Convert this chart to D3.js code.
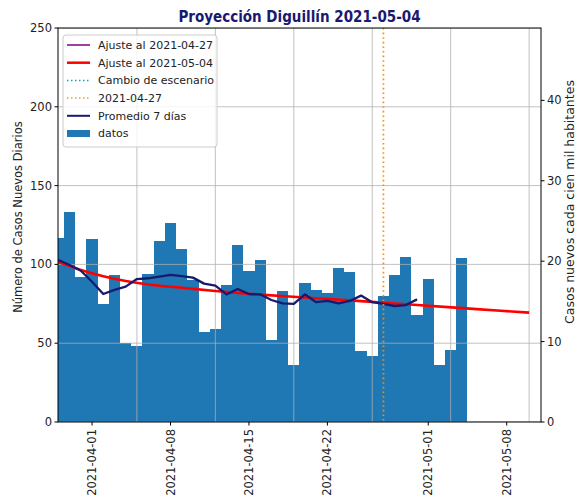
<!DOCTYPE html>
<html><head><meta charset="utf-8">
<script src="https://cdn.jsdelivr.net/npm/d3@7"></script>
<style>body{margin:0;background:#fff} text{font-family:"DejaVu Sans",sans-serif}</style>
</head><body><svg id="c" width="577" height="501"></svg>
<script>
const barDates = ["2021-03-29","2021-03-30","2021-03-31","2021-04-01","2021-04-02","2021-04-03","2021-04-04","2021-04-05","2021-04-06","2021-04-07",
"2021-04-08","2021-04-09","2021-04-10","2021-04-11","2021-04-12","2021-04-13","2021-04-14","2021-04-15","2021-04-16","2021-04-17",
"2021-04-18","2021-04-19","2021-04-20","2021-04-21","2021-04-22","2021-04-23","2021-04-24","2021-04-25","2021-04-26","2021-04-27",
"2021-04-28","2021-04-29","2021-04-30","2021-05-01","2021-05-02","2021-05-03","2021-05-04"];
const casos = [117,133,92,116,75,93,50,48,94,115,
126,110,90,57,59,87,112,96,103,52,
83,36,88,84,82,98,95,45,42,80,
93,105,68,91,36,46,104];
const avgDates = ["2021-03-29","2021-03-30","2021-03-31","2021-04-01","2021-04-02","2021-04-03","2021-04-04","2021-04-05","2021-04-06","2021-04-07",
"2021-04-08","2021-04-09","2021-04-10","2021-04-11","2021-04-12","2021-04-13","2021-04-14","2021-04-15","2021-04-16","2021-04-17",
"2021-04-18","2021-04-19","2021-04-20","2021-04-21","2021-04-22","2021-04-23","2021-04-24","2021-04-25","2021-04-26","2021-04-27",
"2021-04-28","2021-04-29","2021-04-30"];
const promedio7 = [102.8,99.6,96,89,81.2,83.8,85.9,90.7,91.2,92.2,
93.3,92.6,91.6,87.8,86.5,81,84.4,81.2,81,77.4,
75.3,74.9,81,76,76.8,75.3,76.8,80.2,76,74.9,
73.6,74.2,77.8];
const fitDates = ["2021-03-29","2021-03-31","2021-04-02","2021-04-04","2021-04-06","2021-04-09","2021-04-12","2021-04-16","2021-04-20","2021-04-25","2021-04-30","2021-05-05","2021-05-10"];
const ajuste0504 = [101.5,96.5,92.5,89.5,87.3,85.2,83.1,80.8,79.0,76.7,74.2,71.8,69.4];
const xTickLabels = ["2021-04-01","2021-04-08","2021-04-15","2021-04-22","2021-05-01","2021-05-08"];
const gridDates = ["2021-04-05","2021-04-12","2021-04-19","2021-04-26","2021-05-03","2021-05-10"];
const yTicks = [0,50,100,150,200,250];
const y2Ticks = [0,10,20,30,40];
const markerDate = "2021-04-27";
const legendItems = [
  {label:"Ajuste al 2021-04-27", type:"line", color:"#800080"},
  {label:"Ajuste al 2021-05-04", type:"line", color:"#ff0000", w:2.5},
  {label:"Cambio de escenario", type:"dot", color:"#17a2b8"},
  {label:"2021-04-27", type:"dot", color:"#ff9a1a"},
  {label:"Promedio 7 días", type:"line", color:"#191970", w:2},
  {label:"datos", type:"patch", color:"#1f77b4"}
];

const parse = d3.utcParse("%Y-%m-%d");
const DAY = 864e5;
const L = 58, R = 541, T = 28, B = 422;
const svg = d3.select("#c");
const x = d3.scaleUtc()
  .domain([new Date(+parse("2021-03-29") - 0.04*DAY), new Date(+parse("2021-05-11") + 0.06*DAY)])
  .range([L, R]);
const y = d3.scaleLinear().domain([0,250]).range([B,T]);
const y2 = d3.scaleLinear().domain([0,49]).range([B,T]);

svg.append("defs").append("clipPath").attr("id","clip")
  .append("rect").attr("x",L).attr("y",T).attr("width",R-L).attr("height",B-T);

const plot = svg.append("g").attr("clip-path","url(#clip)");
const edge = d => Math.round(x(new Date(+d - DAY/2)));
plot.selectAll("rect.bar").data(barDates.map((d,i)=>({d:parse(d),v:casos[i]})))
  .join("rect").attr("class","bar")
  .attr("x",d=>edge(d.d)).attr("width",d=>edge(new Date(+d.d + DAY)) - edge(d.d))
  .attr("y",d=>y(d.v)).attr("height",d=>B-y(d.v))
  .attr("fill","#1f77b4").attr("shape-rendering","crispEdges");

// grid
plot.selectAll("line.hg").data(yTicks).join("line")
  .attr("x1",L).attr("x2",R).attr("y1",d=>y(d)).attr("y2",d=>y(d))
  .attr("stroke","#b0b0b0").attr("stroke-width",0.9).attr("opacity",0.85);
plot.selectAll("line.vg").data(gridDates).join("line")
  .attr("x1",d=>x(parse(d))).attr("x2",d=>x(parse(d))).attr("y1",T).attr("y2",B)
  .attr("stroke","#b0b0b0").attr("stroke-width",0.9).attr("opacity",0.85);

// fit line
plot.append("path").datum(fitDates.map((d,i)=>[parse(d),ajuste0504[i]]))
  .attr("d", d3.line().x(d=>x(d[0])).y(d=>y(d[1])).curve(d3.curveMonotoneX))
  .attr("fill","none").attr("stroke","#ff0000").attr("stroke-width",2.6);
// 7-day average
plot.append("path").datum(avgDates.map((d,i)=>[parse(d),promedio7[i]]))
  .attr("d", d3.line().x(d=>x(d[0])).y(d=>y(d[1])))
  .attr("fill","none").attr("stroke","#191970").attr("stroke-width",2.3).attr("stroke-linejoin","round");
// marker line
plot.append("line").attr("x1",x(parse(markerDate))).attr("x2",x(parse(markerDate)))
  .attr("y1",T).attr("y2",B).attr("stroke","#ff8c00").attr("stroke-width",1.7)
  .attr("stroke-dasharray","1.6,3");

// frame
svg.append("rect").attr("x",L).attr("y",T).attr("width",R-L).attr("height",B-T)
  .attr("fill","none").attr("stroke","#000").attr("stroke-width",1);

// left axis
const gl = svg.append("g");
yTicks.forEach(t=>{
  gl.append("line").attr("x1",L-3.5).attr("x2",L).attr("y1",y(t)).attr("y2",y(t)).attr("stroke","#000");
  gl.append("text").attr("x",L-6).attr("y",y(t)).attr("dy","0.35em").attr("text-anchor","end")
    .attr("font-size",11.5).attr("fill","#222").text(t);
});
// right axis
y2Ticks.forEach(t=>{
  gl.append("line").attr("x1",R).attr("x2",R+3.5).attr("y1",y2(t)).attr("y2",y2(t)).attr("stroke","#000");
  gl.append("text").attr("x",R+6).attr("y",y2(t)).attr("dy","0.35em").attr("text-anchor","start")
    .attr("font-size",11.5).attr("fill","#222").text(t);
});
// x axis
xTickLabels.forEach(t=>{
  const xx = x(parse(t));
  gl.append("line").attr("x1",xx).attr("x2",xx).attr("y1",B).attr("y2",B+3.5).attr("stroke","#000");
  gl.append("text").attr("transform",`translate(${xx},${B+7}) rotate(-90)`)
    .attr("dy","0.35em").attr("text-anchor","end").attr("font-size",11.5).attr("fill","#222").text(t);
});

// axis labels
svg.append("text").attr("transform",`translate(18,${(T+B)/2 - 8}) rotate(-90)`)
  .attr("text-anchor","middle").attr("dy","0.35em").attr("font-size",11.5).attr("fill","#222")
  .text("Número de Casos Nuevos Diarios");
svg.append("text").attr("transform",`translate(570,202) rotate(-90)`)
  .attr("text-anchor","middle").attr("dy","0.35em").attr("font-size",12.5).attr("fill","#222")
  .text("Casos nuevos cada cien mil habitantes");

// title
svg.append("text").attr("x",(L+R)/2).attr("y",22).attr("text-anchor","middle")
  .attr("font-size",15).attr("font-weight","bold").attr("fill","#191970")
  .style("font-family","'DejaVu Sans Condensed','DejaVu Sans',sans-serif")
  .style("font-stretch","condensed")
  .text("Proyección Diguillín 2021-05-04");

// legend
const lg = svg.append("g");
lg.append("rect").attr("x",63).attr("y",35).attr("width",154).attr("height",112).attr("rx",3)
  .attr("fill","#fff").attr("fill-opacity",0.8).attr("stroke","#cccccc").attr("stroke-width",1);
legendItems.forEach((it,i)=>{
  const cy = 45 + i*17.7;
  if(it.type==="line"){
    lg.append("line").attr("x1",67).attr("x2",90).attr("y1",cy).attr("y2",cy)
      .attr("stroke",it.color).attr("stroke-width",it.w||1.5);
  } else if(it.type==="dot"){
    lg.append("line").attr("x1",67).attr("x2",90).attr("y1",cy).attr("y2",cy)
      .attr("stroke",it.color).attr("stroke-width",1.5).attr("stroke-dasharray","1.5,2.5");
  } else {
    lg.append("rect").attr("x",67).attr("y",cy-3.5).attr("width",23).attr("height",7).attr("fill",it.color);
  }
  lg.append("text").attr("x",98).attr("y",cy).attr("dy","0.35em").attr("font-size",11)
    .attr("fill","#222").text(it.label);
});
</script></body></html>
